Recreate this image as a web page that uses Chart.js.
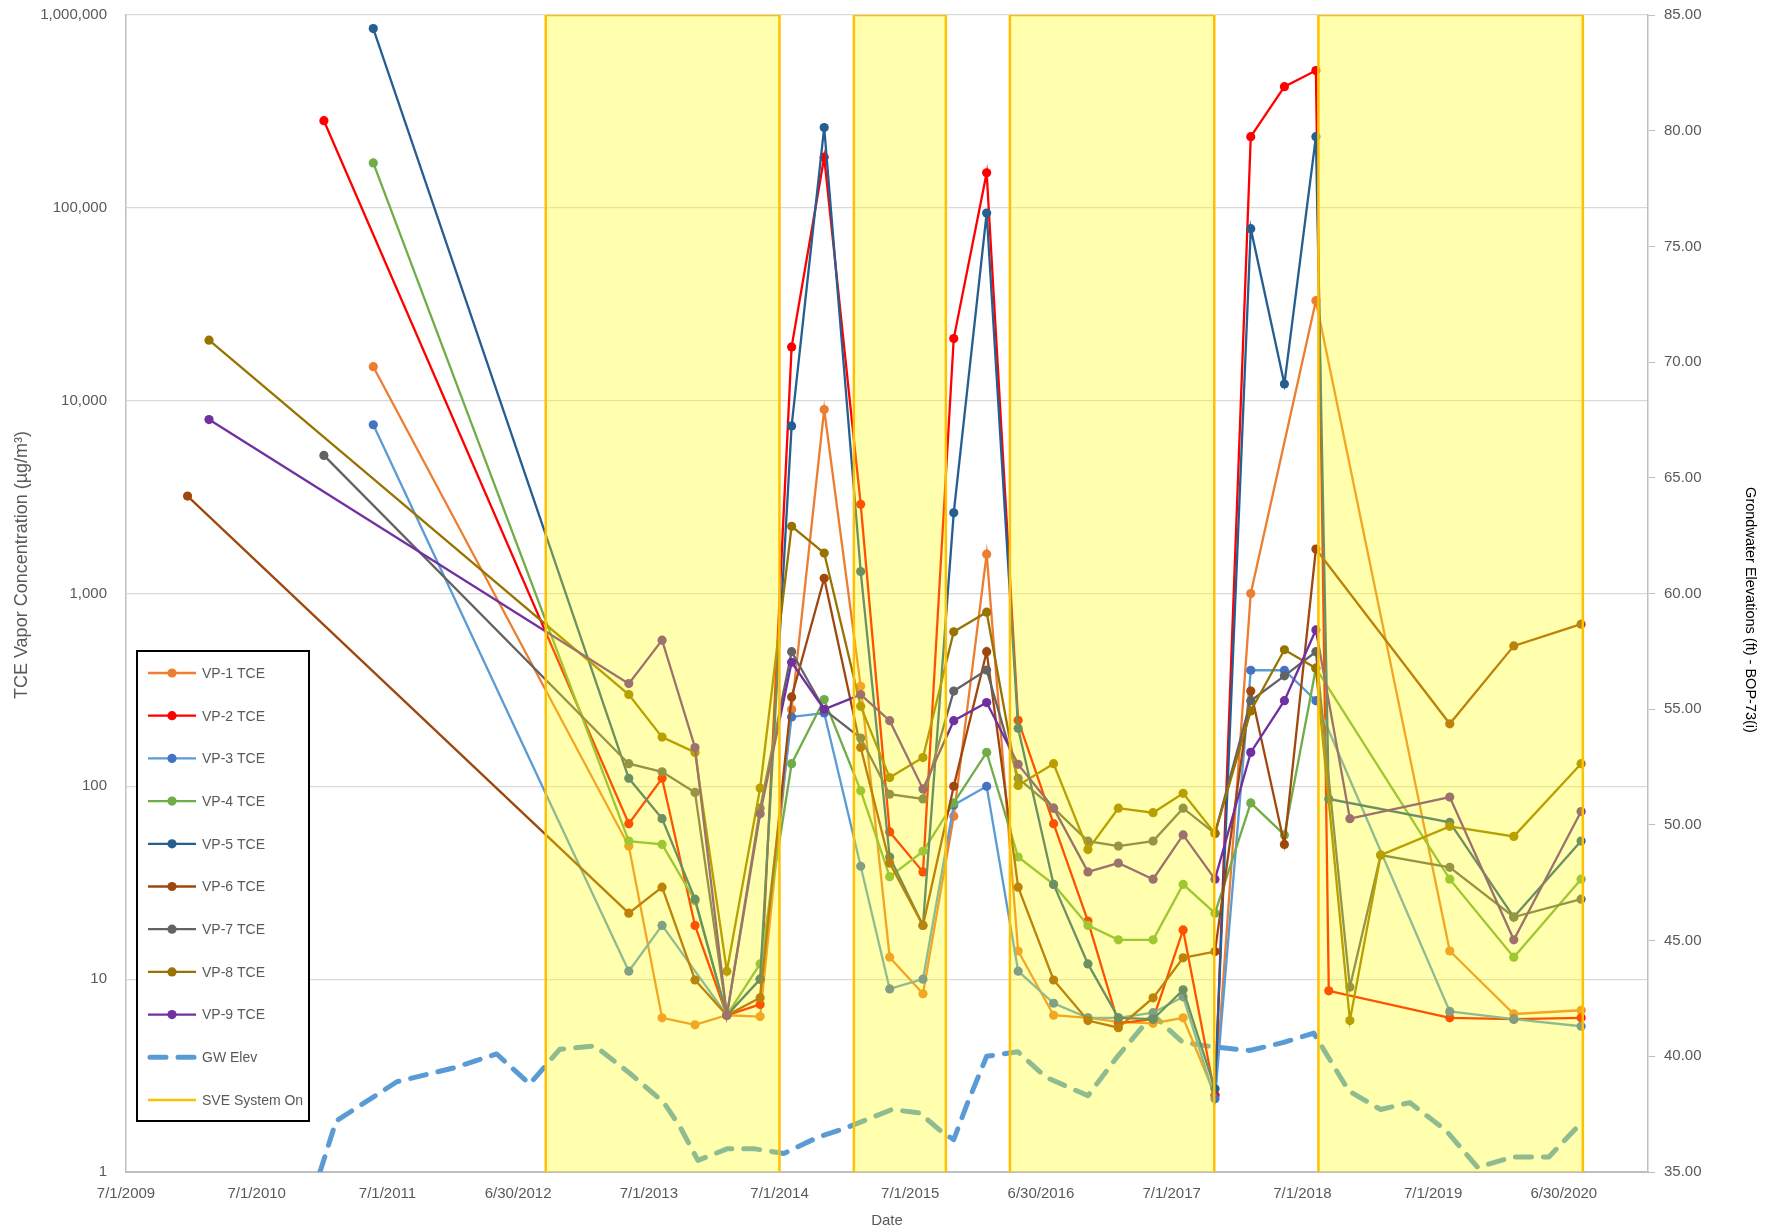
<!DOCTYPE html>
<html>
<head>
<meta charset="utf-8">
<script src="https://cdn.jsdelivr.net/npm/chart.js@4.4.1/dist/chart.umd.min.js"></script>
<style>
html,body{margin:0;padding:0;background:#ffffff;}
#wrap{width:1781px;height:1232px;position:relative;}
canvas{display:block;}
</style>
</head>
<body>
<div id="wrap"><canvas id="c" width="1781" height="1232"></canvas></div>
<script>
// ---------- DATA ----------
const sampleDates = ['2009-12-20','2010-02-18','2011-01-05','2011-05-23','2013-05-06','2013-08-07','2013-11-07','2014-02-04','2014-05-08','2014-08-04','2014-11-03','2015-02-13','2015-05-05','2015-08-06','2015-10-31','2016-01-31','2016-04-28','2016-08-05','2016-11-09','2017-02-02','2017-05-10','2017-08-02','2017-10-30','2018-02-07','2018-05-12','2018-08-08','2018-09-13','2018-11-11','2019-02-05','2019-08-17','2020-02-12','2020-08-18'];

const vp1 = [null,null,null,15000,49,6.3,5.8,6.5,6.4,250,9000,330,13,8.4,70,1600,14,6.5,6.3,6.0,5.9,6.3,2.5,1000,null,33000,null,null,null,14,6.6,6.9];
const vp2 = [null,null,283000,null,64,110,19,6.5,7.4,19000,183000,2900,58,36,21000,152000,220,64,20,5.9,6.2,18,2.5,234000,425000,515000,8.7,null,null,6.3,6.2,6.3];
const vp3 = [null,null,null,7500,11,19,null,6.5,10,229,240,38.5,8.9,10,80,100,11,7.5,6.3,6.3,6.7,8.1,2.4,400,400,278,null,null,null,6.8,6.2,5.7];
const vp4 = [null,null,null,171000,52,50,25.5,6.5,12,131,282,95,34,46,82,150,43,31,19,16,16,31,22,82,56,410,null,null,null,33,13,33];
const vp5 = [null,null,null,850000,110,68,26,6.5,10,7400,261000,1300,43,19,2620,94000,200,31,12,6.3,6.2,8.8,2.7,78000,12200,234000,86,null,null,65,21,52];
const vp6 = [3200,null,null,null,22,30,9.9,6.5,8.0,291,1200,159,40,19,100,499,30,9.9,6.1,5.6,8.0,12.9,13.9,312,50,1700,null,null,null,211,535,693];
const vp7 = [null,null,5200,null,131,119,93,6.5,77,499,250,178,91,86,312,401,110,77,52,49,52,77,57,278,374,499,null,9.1,44,38,21,26];
const vp8 = [null,20600,null,null,299,180,150,11,98,2230,1620,260,111,141,633,800,101,131,47,77,73,92,57,246,511,410,null,6.1,44,62,55,131];
const vp9 = [null,7980,null,null,341,573,159,6.5,72,440,251,299,219,97,219,272,130,77,36,40,33,56,33,150,278,647,null,68,null,88,16,74];

const gwDates = ['2010-12-25','2011-02-08','2011-07-28','2012-01-03','2012-05-02','2012-08-02','2012-10-25','2013-01-31','2013-05-06','2013-08-12','2013-09-28','2013-11-15','2014-02-04','2014-04-23','2014-07-13','2014-10-16','2015-01-02','2015-05-11','2015-07-28','2015-09-30','2015-10-31','2015-12-09','2016-01-31','2016-04-27','2016-07-14','2016-11-09','2017-01-31','2017-05-09','2017-08-01','2017-10-29','2018-02-04','2018-05-10','2018-08-02','2018-11-08','2019-02-05','2019-04-27','2019-08-06','2019-11-03','2020-02-09','2020-05-20','2020-08-17'];
const gwElev = [35.0,37.2,38.9,39.5,40.1,38.8,40.3,40.45,39.3,38.0,36.9,35.5,36.0,36.0,35.8,36.5,36.9,37.7,37.55,36.7,36.4,38.0,40.0,40.2,39.1,38.3,40.0,41.8,40.6,40.4,40.25,40.6,41.0,38.5,37.7,38.0,36.8,35.2,35.65,35.65,37.1];

const sveStart = ['2012-09-16','2015-01-25','2016-04-05','2018-08-15'];
const sveEnd   = ['2014-07-01','2015-10-09','2017-10-28','2020-08-23'];

const xTickLabels = ['7/1/2009','7/1/2010','7/1/2011','6/30/2012','7/1/2013','7/1/2014','7/1/2015','6/30/2016','7/1/2017','7/1/2018','7/1/2019','6/30/2020'];
const yTickValues = [1,10,100,1000,10000,100000,1000000];
const seriesLabels = ['VP-1 TCE','VP-2 TCE','VP-3 TCE','VP-4 TCE','VP-5 TCE','VP-6 TCE','VP-7 TCE','VP-8 TCE','VP-9 TCE'];
const seriesValues = [vp1,vp2,vp3,vp4,vp5,vp6,vp7,vp8,vp9];

// ---------- STYLE ----------
const lineColors   = ['#ED7D31','#FF0000','#5B9BD5','#70AD47','#255E91','#9E480E','#636363','#997300','#7030A0'];
const markerColors = ['#ED7D31','#FF0000','#4472C4','#70AD47','#255E91','#9E480E','#636363','#997300','#7030A0'];
const FONT = '"Liberation Sans", Arial, sans-serif';
const GRAY = '#595959';

const toDay = s => Date.UTC(+s.slice(0,4), +s.slice(5,7)-1, +s.slice(8,10)) / 86400000;
const xMin = toDay('2009-07-01');
const xMax = xMin + 4253;

const vpSets = seriesValues.map((vals,k)=>({
  label: seriesLabels[k],
  yAxisID: 'y',
  data: sampleDates.map((d,i)=>({x: toDay(d), y: vals[i]})).filter(p=>p.y !== null),
  borderColor: lineColors[k],
  backgroundColor: markerColors[k],
  pointBackgroundColor: markerColors[k],
  pointBorderColor: markerColors[k],
  borderWidth: 2.3,
  pointRadius: 4.6,
  pointBorderWidth: 0,
  fill: false,
  tension: 0,
  order: 10 - k
}));

const gwSet = {
  label: 'GW Elev',
  yAxisID: 'y1',
  data: gwDates.map((d,i)=>({x: toDay(d), y: gwElev[i]})),
  borderColor: '#5B9BD5',
  borderWidth: 5,
  borderDash: [16, 12],
  borderCapStyle: 'round',
  borderJoinStyle: 'round',
  pointRadius: 0,
  fill: false,
  tension: 0,
  order: 20
};

const sveData = [];
sveStart.forEach((s,i)=>{
  const a = toDay(s), b = toDay(sveEnd[i]);
  sveData.push({x:a,y:0},{x:a,y:1},{x:b,y:1},{x:b,y:0});
  if (i < sveStart.length-1) sveData.push({x:(b+toDay(sveStart[i+1]))/2, y:null});
});
const sveSet = {
  label: 'SVE System On',
  yAxisID: 'ySVE',
  data: sveData,
  borderColor: '#FFC000',
  borderWidth: 2.5,
  borderJoinStyle: 'miter',
  backgroundColor: 'rgba(255,255,0,0.32)',
  fill: 'origin',
  pointRadius: 0,
  spanGaps: false,
  tension: 0,
  order: 0
};

const leftTitle = 'TCE Vapor Concentration (\u00B5g/m\u00B3)';
const rightTitle = 'Grondwater Elevations (ft) - BOP-73(i)';
const bottomTitle = 'Date';

const decor = {
  id: 'decor',
  afterDraw(chart){
    const ctx = chart.ctx;
    ctx.save();
    ctx.fillStyle = GRAY;
    ctx.font = '18px ' + FONT;
    ctx.textAlign = 'center'; ctx.textBaseline = 'middle';
    ctx.translate(22, 565); ctx.rotate(-Math.PI/2);
    ctx.fillText(leftTitle, 0, 0);
    ctx.restore();

    ctx.save();
    ctx.fillStyle = '#000000';
    ctx.font = '14.5px ' + FONT;
    ctx.textAlign = 'center'; ctx.textBaseline = 'middle';
    ctx.translate(1750, 610); ctx.rotate(Math.PI/2);
    ctx.fillText(rightTitle, 0, 0);
    ctx.restore();

    ctx.save();
    ctx.fillStyle = GRAY;
    ctx.font = '15px ' + FONT;
    ctx.textAlign = 'center'; ctx.textBaseline = 'middle';
    ctx.fillText(bottomTitle, (chart.chartArea.left + chart.chartArea.right)/2, 1221);
    ctx.restore();

    // legend
    const L = 137, T = 651, R = 309, B = 1121;
    ctx.save();
    ctx.fillStyle = '#ffffff';
    ctx.fillRect(L, T, R-L, B-T);
    ctx.strokeStyle = '#000000';
    ctx.lineWidth = 2;
    ctx.strokeRect(L, T, R-L, B-T);
    const sets = chart.data.datasets;
    sets.forEach((ds, i)=>{
      const y = 673 + i*42.7;
      ctx.save();
      ctx.strokeStyle = ds.borderColor;
      ctx.lineWidth = ds.borderWidth;
      ctx.lineCap = ds.borderCapStyle || 'butt';
      if (ds.borderDash) ctx.setLineDash(ds.borderDash);
      ctx.beginPath();
      if (ds.borderDash) { ctx.moveTo(150, y); ctx.lineTo(196, y); }
      else { ctx.moveTo(148, y); ctx.lineTo(196, y); }
      ctx.stroke();
      ctx.setLineDash([]);
      if (ds.pointRadius) {
        ctx.fillStyle = ds.pointBackgroundColor;
        ctx.beginPath(); ctx.arc(172, y, ds.pointRadius, 0, Math.PI*2); ctx.fill();
      }
      ctx.restore();
      ctx.fillStyle = GRAY;
      ctx.font = '14px ' + FONT;
      ctx.textAlign = 'left'; ctx.textBaseline = 'middle';
      ctx.fillText(ds.label, 202, y + 1);
    });
    ctx.restore();
  }
};

Chart.defaults.font.family = FONT;

new Chart(document.getElementById('c'), {
  type: 'line',
  data: { datasets: [...vpSets, gwSet, sveSet] },
  options: {
    responsive: false,
    devicePixelRatio: 1,
    animation: false,
    layout: { padding: { top: 15, left: 0, right: 0, bottom: 0 } },
    plugins: { legend: { display: false }, tooltip: { enabled: false } },
    scales: {
      x: {
        type: 'linear', position: 'bottom', min: xMin, max: xMax,
        grid: { display: false, drawTicks: false },
        border: { display: true, color: '#bfbfbf', width: 2 },
        afterBuildTicks: s => { s.ticks = xTickLabels.map((_,k)=>({value: xMin + k*365.25})); },
        afterFit: s => { s.height = 60; s.paddingLeft = 0; s.paddingRight = 0; },
        ticks: { color: GRAY, font: { size: 15 }, padding: 13, maxRotation: 0, autoSkip: false,
                 callback: (v, i) => xTickLabels[i] }
      },
      y: {
        type: 'logarithmic', position: 'left', min: 1, max: 1000000,
        grid: { color: '#d9d9d9', lineWidth: 1.3, drawTicks: false },
        border: { display: true, color: '#bfbfbf', width: 1.5 },
        afterBuildTicks: s => { s.ticks = yTickValues.map(v=>({value: v})); },
        afterFit: s => { s.width = 126; s.paddingTop = 0; s.paddingBottom = 0; },
        ticks: { color: GRAY, font: { size: 15 }, padding: 19,
                 callback: v => Number(v).toLocaleString('en-US') }
      },
      y1: {
        type: 'linear', position: 'right', min: 35, max: 85,
        grid: { drawOnChartArea: false, drawTicks: true, tickLength: 7, color: '#bfbfbf' },
        border: { display: true, color: '#bfbfbf', width: 1.5 },
        afterFit: s => { s.width = 133; s.paddingTop = 0; s.paddingBottom = 0; },
        ticks: { color: GRAY, font: { size: 15 }, padding: 9, stepSize: 5,
                 callback: v => Number(v).toFixed(2) }
      },
      ySVE: { type: 'linear', min: 0, max: 1, display: false }
    }
  },
  plugins: [decor]
});
</script>
</body>
</html>
